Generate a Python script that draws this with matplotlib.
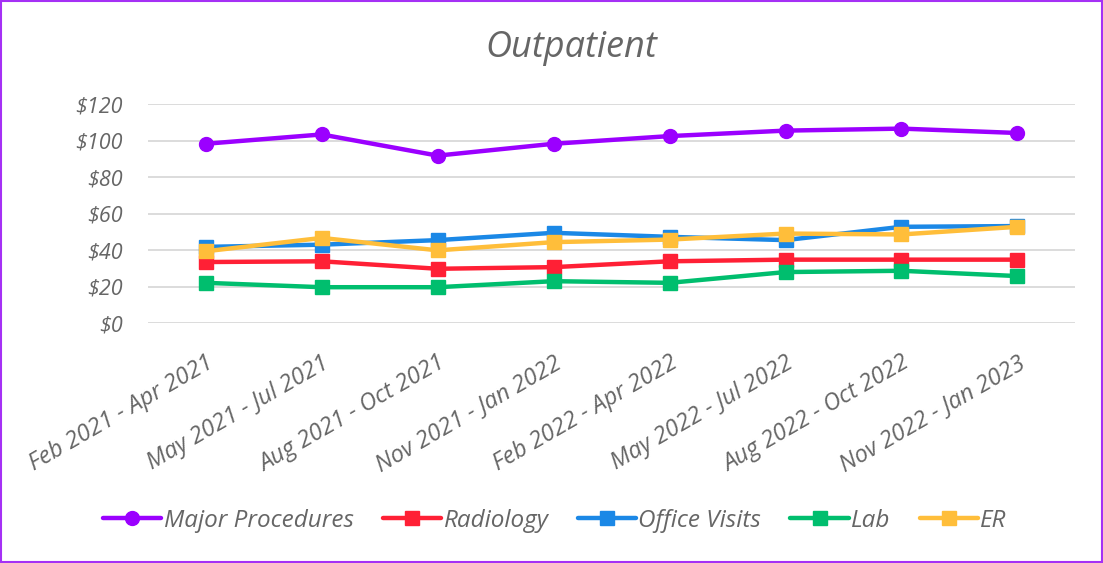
import matplotlib.pyplot as plt
from matplotlib.patches import Rectangle
from matplotlib.ticker import FuncFormatter

periods = ["Feb 2021 - Apr 2021", "May 2021 - Jul 2021", "Aug 2021 - Oct 2021",
           "Nov 2021 - Jan 2022", "Feb 2022 - Apr 2022", "May 2022 - Jul 2022",
           "Aug 2022 - Oct 2022", "Nov 2022 - Jan 2023"]

major_procedures = [98.3, 103.4, 91.8, 98.3, 102.5, 105.5, 106.6, 104.2]
radiology = [33.5, 33.9, 29.8, 30.7, 33.9, 34.8, 34.8, 34.8]
office_visits = [41.8, 43.0, 45.5, 49.5, 47.3, 45.5, 52.8, 53.2]
lab = [22.1, 19.7, 19.7, 23.0, 22.1, 28.0, 28.7, 25.8]
er = [39.4, 46.7, 39.9, 44.4, 45.8, 49.1, 48.6, 52.8]

grey = "#666666"
plt.rcParams['font.family'] = ['Open Sans', 'DejaVu Sans']

fig = plt.figure(figsize=(11.03, 5.63), dpi=100)
ax = fig.add_axes([0.134, 0.426, 0.841, 0.389])

x = list(range(len(periods)))
series = [
    ("Major Procedures", major_procedures, "#9B00FF", "o"),
    ("Radiology", radiology, "#FF2035", "s"),
    ("Office Visits", office_visits, "#1B88E6", "s"),
    ("Lab", lab, "#00BE6E", "s"),
    ("ER", er, "#FFBE3A", "s"),
]
for name, vals, col, mk in series:
    ax.plot(x, vals, color=col, marker=mk, markersize=10, linewidth=3.2,
            label=name, solid_capstyle="round", zorder=3)

ax.set_xlim(-0.5, len(periods) - 0.5)
ax.set_ylim(0, 120)
ax.set_yticks(range(0, 121, 20))
ax.yaxis.set_major_formatter(FuncFormatter(lambda v, p: "${:.0f}".format(v)))
ax.grid(axis="y", color="#d9d9d9", linewidth=1.3, zorder=0)
for s in ax.spines.values():
    s.set_visible(False)
ax.tick_params(axis="y", length=0, colors=grey, labelsize=15.5, pad=18)
ax.tick_params(axis="x", length=0, colors=grey, labelsize=17, pad=20)
ax.set_xticks(x)
ax.set_xticklabels(periods, rotation=30, ha="right", rotation_mode="anchor",
                   fontstyle="italic")
for lbl in ax.get_yticklabels():
    lbl.set_fontstyle("italic")

fig.text(0.518, 0.915, "Outpatient", ha="center", va="center", fontsize=26,
         fontstyle="italic", color=grey)

leg = fig.legend(loc="center", bbox_to_anchor=(0.503, 0.075), ncol=5, frameon=False,
                 prop={"size": 17.5, "style": "italic"}, handlelength=2.4,
                 handletextpad=0.1, columnspacing=1.2)
for t in leg.get_texts():
    t.set_color(grey)

fig.patches.append(Rectangle((0.001, 0.002), 0.998, 0.996, transform=fig.transFigure,
                             fill=False, edgecolor="#A530F5", linewidth=1.5))

fig.savefig("out.png", dpi=100)
